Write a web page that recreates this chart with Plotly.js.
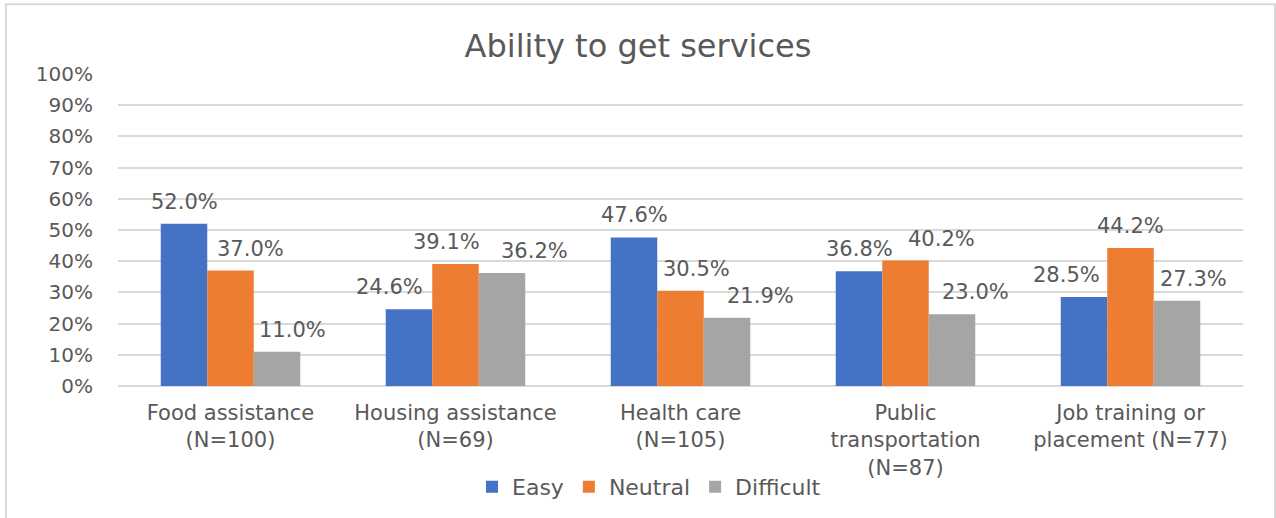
<!DOCTYPE html>
<html>
<head>
<meta charset="utf-8">
<script src="https://cdn.plot.ly/plotly-3.0.1.min.js"></script>
<style>
  html, body { margin: 0; padding: 0; background: #ffffff; }
  #chart { width: 1276px; height: 518px; }
</style>
</head>
<body>
<div id="chart"></div>
<script>
// ---- data ----
const categories = [
  "Food assistance<br>(N=100)",
  "Housing assistance<br>(N=69)",
  "Health care<br>(N=105)",
  "Public<br>transportation<br>(N=87)",
  "Job training or<br>placement (N=77)"
];
const seriesNames = ["Easy", "Neutral", "Difficult"];
const easy      = [52.0, 24.6, 47.6, 36.8, 28.5];
const neutral   = [37.0, 39.1, 30.5, 40.2, 44.2];
const difficult = [11.0, 36.2, 21.9, 23.0, 27.3];
const yTicks = [0, 10, 20, 30, 40, 50, 60, 70, 80, 90, 100];

// ---- style ----
const colors = ["#4472C4", "#ED7D31", "#A5A5A5"];
const textColor = "#595959";
const gridColor = "#D9D9D9";
const fontFamily = "DejaVu Sans, Verdana, sans-serif";
const bargap = 0.38;
// label nudges (px) mimicking the original label placement, per series per category
const labelNudge = [
  [0, -20, 0, 0, -18],
  [20, -9, 16, 36, 0],
  [15, 32, 33, 23, 16]
];

const allSeries = [easy, neutral, difficult];
const xIdx = categories.map((c, i) => i);

const traces = allSeries.map((vals, s) => ({
  type: "bar",
  name: seriesNames[s],
  x: xIdx,
  y: vals,
  marker: { color: colors[s] },
  hoverinfo: "skip"
}));

const barW = (1 - bargap) / 3;
const annotations = [];
allSeries.forEach((vals, s) => {
  vals.forEach((v, i) => {
    annotations.push({
      x: i + (s - 1) * barW,
      y: v,
      xref: "x", yref: "y",
      text: v.toFixed(1) + "%",
      showarrow: false,
      yanchor: "middle",
      xanchor: "center",
      yshift: 22,
      xshift: labelNudge[s][i],
      font: { family: fontFamily, size: 21, color: textColor }
    });
  });
});

const layout = {
  width: 1276,
  height: 518,
  margin: { l: 118, r: 33, t: 74, b: 131 },
  paper_bgcolor: "#ffffff",
  plot_bgcolor: "#ffffff",
  font: { family: fontFamily, color: textColor },
  title: {
    text: "Ability to get services",
    font: { family: fontFamily, size: 32, color: textColor },
    x: 0.5, xanchor: "center",
    y: 1 - 46 / 518, yanchor: "middle",
    yref: "container"
  },
  barmode: "group",
  bargap: bargap,
  bargroupgap: 0,
  xaxis: {
    tickmode: "array",
    tickvals: xIdx,
    ticktext: categories,
    range: [-0.5, categories.length - 0.5],
    showgrid: false,
    zeroline: false,
    showline: false,
    ticks: "",
    ticklabelstandoff: 12,
    tickfont: { family: fontFamily, size: 21, color: textColor },
    fixedrange: true
  },
  yaxis: {
    range: [0, 100],
    tickmode: "array",
    tickvals: yTicks,
    ticktext: yTicks.map(t => t + "%"),
    showgrid: true,
    gridcolor: gridColor,
    gridwidth: 2,
    zeroline: true,
    zerolinecolor: gridColor,
    zerolinewidth: 2,
    showline: false,
    ticks: "",
    ticklabelstandoff: 24,
    tickfont: { family: fontFamily, size: 20, color: textColor },
    fixedrange: true
  },
  showlegend: true,
  legend: {
    orientation: "h",
    x: 0.472, xanchor: "center",
    y: -0.319, yanchor: "middle",
    font: { family: fontFamily, size: 22, color: textColor },
    traceorder: "normal",
    itemwidth: 30,
    bgcolor: "rgba(0,0,0,0)"
  },
  annotations: annotations,
  shapes: [{
    type: "rect",
    xref: "paper", yref: "paper",
    x0: (6 - 118) / 1125, x1: (1275 - 118) / 1125,
    y0: (387 - 530) / 313, y1: (387 - 4) / 313,
    line: { color: gridColor, width: 2 },
    fillcolor: "rgba(0,0,0,0)",
    layer: "below"
  }]
};

Plotly.newPlot("chart", traces, layout, { displayModeBar: false, staticPlot: true });
</script>
</body>
</html>
